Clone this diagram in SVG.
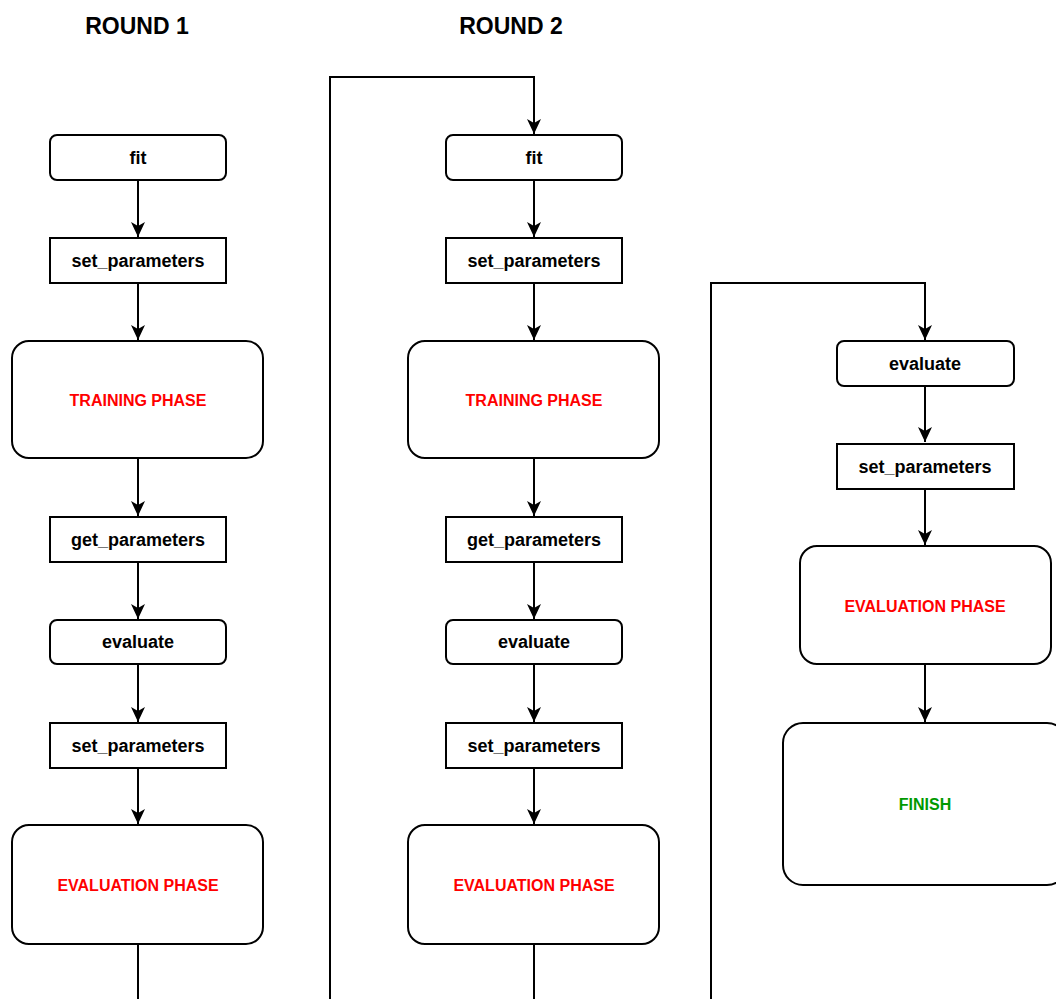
<svg xmlns="http://www.w3.org/2000/svg" width="1056" height="999" viewBox="0 0 1056 999">
<style>
.box{fill:#fff;stroke:#000;stroke-width:2}
.t{font-family:"Liberation Sans",Arial,sans-serif;font-weight:bold;font-size:18px;fill:#000;text-anchor:middle;dominant-baseline:central}
.r{font-family:"Liberation Sans",Arial,sans-serif;font-weight:bold;font-size:16px;fill:#ff0000;text-anchor:middle;dominant-baseline:central}
.g{font-family:"Liberation Sans",Arial,sans-serif;font-weight:bold;font-size:16px;fill:#009900;text-anchor:middle;dominant-baseline:central}
.h{font-family:"Liberation Sans",Arial,sans-serif;font-weight:bold;font-size:23px;fill:#000;text-anchor:middle;dominant-baseline:central}
.c{fill:none;stroke:#000;stroke-width:2}
</style>
<defs>
<marker id="arr" markerWidth="16" markerHeight="16" refX="15" refY="8" orient="auto" markerUnits="userSpaceOnUse">
<path d="M0,1 L15,8 L0,15 L4,8 Z" fill="#000"/>
</marker>
</defs>
<rect width="1056" height="999" fill="#fff"/>
<text class="h" x="137" y="26">ROUND 1</text>
<text class="h" x="511" y="26">ROUND 2</text>
<g id="connectors">
<path class="c" d="M138,180 V237" marker-end="url(#arr)"/>
<path class="c" d="M138,283 V340" marker-end="url(#arr)"/>
<path class="c" d="M138,458 V516" marker-end="url(#arr)"/>
<path class="c" d="M138,562 V619" marker-end="url(#arr)"/>
<path class="c" d="M138,664 V722" marker-end="url(#arr)"/>
<path class="c" d="M138,768 V824" marker-end="url(#arr)"/>
<path class="c" d="M138,944 V999"/>
<path class="c" d="M330,999 V77 H534 V134" marker-end="url(#arr)"/>
<path class="c" d="M534,180 V237" marker-end="url(#arr)"/>
<path class="c" d="M534,283 V340" marker-end="url(#arr)"/>
<path class="c" d="M534,458 V516" marker-end="url(#arr)"/>
<path class="c" d="M534,562 V619" marker-end="url(#arr)"/>
<path class="c" d="M534,664 V722" marker-end="url(#arr)"/>
<path class="c" d="M534,768 V824" marker-end="url(#arr)"/>
<path class="c" d="M534,944 V999"/>
<path class="c" d="M711,999 V283 H925 V340" marker-end="url(#arr)"/>
<path class="c" d="M925,386 V442" marker-end="url(#arr)"/>
<path class="c" d="M925,489 V545" marker-end="url(#arr)"/>
<path class="c" d="M925,664 V722" marker-end="url(#arr)"/>
</g>
<g id="r1-fit"><rect class="box" x="50" y="135" width="176" height="45" rx="7"/><text class="t" x="138" y="158">fit</text></g>
<g id="r1-set1"><rect class="box" x="50" y="238" width="176" height="45"/><text class="t" x="138" y="261">set_parameters</text></g>
<g id="r1-train"><rect class="box" x="12" y="341" width="251" height="117" rx="17"/><text class="r" x="138" y="400">TRAINING PHASE</text></g>
<g id="r1-get"><rect class="box" x="50" y="517" width="176" height="45"/><text class="t" x="138" y="540">get_parameters</text></g>
<g id="r1-eval"><rect class="box" x="50" y="620" width="176" height="44" rx="7"/><text class="t" x="138" y="642">evaluate</text></g>
<g id="r1-set2"><rect class="box" x="50" y="723" width="176" height="45"/><text class="t" x="138" y="746">set_parameters</text></g>
<g id="r1-evalphase"><rect class="box" x="12" y="825" width="251" height="119" rx="17"/><text class="r" x="138" y="885">EVALUATION PHASE</text></g>
<g id="r2-fit"><rect class="box" x="446" y="135" width="176" height="45" rx="7"/><text class="t" x="534" y="158">fit</text></g>
<g id="r2-set1"><rect class="box" x="446" y="238" width="176" height="45"/><text class="t" x="534" y="261">set_parameters</text></g>
<g id="r2-train"><rect class="box" x="408" y="341" width="251" height="117" rx="17"/><text class="r" x="534" y="400">TRAINING PHASE</text></g>
<g id="r2-get"><rect class="box" x="446" y="517" width="176" height="45"/><text class="t" x="534" y="540">get_parameters</text></g>
<g id="r2-eval"><rect class="box" x="446" y="620" width="176" height="44" rx="7"/><text class="t" x="534" y="642">evaluate</text></g>
<g id="r2-set2"><rect class="box" x="446" y="723" width="176" height="45"/><text class="t" x="534" y="746">set_parameters</text></g>
<g id="r2-evalphase"><rect class="box" x="408" y="825" width="251" height="119" rx="17"/><text class="r" x="534" y="885">EVALUATION PHASE</text></g>
<g id="r3-eval"><rect class="box" x="837" y="341" width="177" height="45" rx="7"/><text class="t" x="925" y="364">evaluate</text></g>
<g id="r3-set"><rect class="box" x="837" y="444" width="177" height="45"/><text class="t" x="925" y="467">set_parameters</text></g>
<g id="r3-evalphase"><rect class="box" x="800" y="546" width="251" height="118" rx="17"/><text class="r" x="925" y="606">EVALUATION PHASE</text></g>
<g id="finish"><rect class="box" x="783" y="723" width="284" height="162" rx="20"/><text class="g" x="925" y="804">FINISH</text></g>
</svg>
